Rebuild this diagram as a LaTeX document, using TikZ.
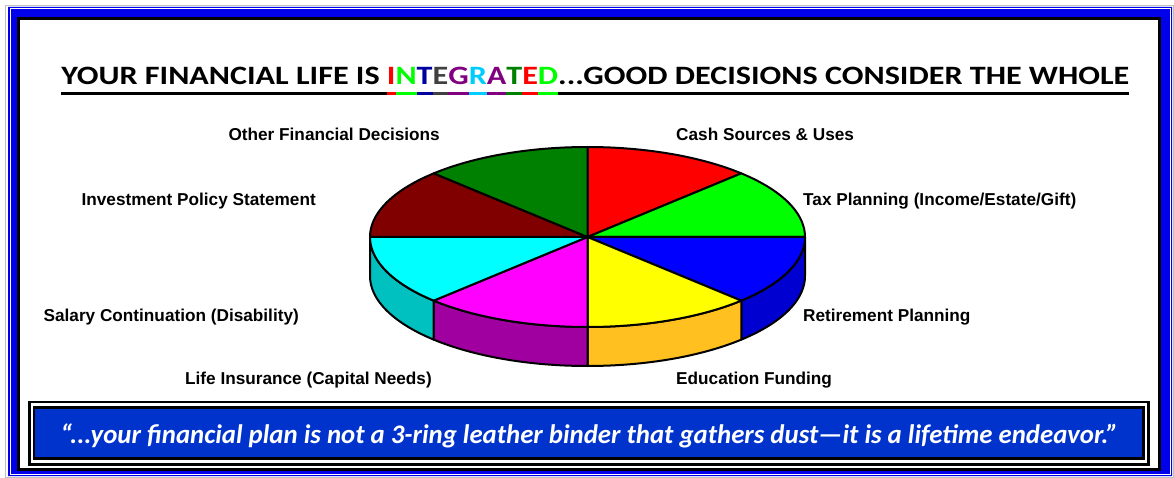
\documentclass[tikz,border=0pt]{standalone}
\usepackage{fontspec}
\setmainfont{Carlito}
\newfontfamily\arialfont{Liberation Sans}
\usetikzlibrary{calc}
\definecolor{frameblue}{RGB}{0,0,235}
\definecolor{bannerblue}{RGB}{0,51,204}
\definecolor{pieRed}{RGB}{255,0,0}
\definecolor{pieLime}{RGB}{0,255,0}
\definecolor{pieBlue}{RGB}{0,0,255}
\definecolor{pieYellow}{RGB}{255,255,0}
\definecolor{pieMagenta}{RGB}{255,0,255}
\definecolor{pieCyan}{RGB}{0,255,255}
\definecolor{pieMaroon}{RGB}{128,0,0}
\definecolor{pieGreen}{RGB}{0,128,0}
\definecolor{wallBlue}{RGB}{0,0,208}
\definecolor{wallYellow}{RGB}{255,192,32}
\definecolor{wallMagenta}{RGB}{160,0,160}
\definecolor{wallCyan}{RGB}{0,192,192}
\definecolor{tNavy}{RGB}{0,0,160}
\definecolor{tGray}{RGB}{64,64,64}
\definecolor{tPurple}{RGB}{128,0,128}
\definecolor{tSky}{RGB}{0,204,255}
\newcommand{\piex}{587.5}
\newcommand{\piey}{237}
\newcommand{\pierx}{217.5}
\newcommand{\piery}{90}
\newcommand{\piedepth}{39}
\newsavebox\ulbox
\newcommand{\ulpart}[2]{\begingroup\color{#1}\sbox\ulbox{#2}\rlap{\rule[-10.7pt]{\wd\ulbox}{2.7pt}}\usebox\ulbox\endgroup}
\tikzset{pieedge/.style={draw=black, line width=2pt, line join=round}}
\tikzset{slicelabel/.style={inner sep=0pt, font=\arialfont\bfseries\fontsize{17.2}{20}\selectfont}}
\tikzset{leftlabel/.style={slicelabel, anchor=base east}}
\tikzset{rightlabel/.style={slicelabel, anchor=base west}}
\tikzset{headline/.style={inner sep=0pt, anchor=base, font=\bfseries\fontsize{26.5}{30}\selectfont}}
\tikzset{quotetext/.style={inner sep=0pt, anchor=base, text=white, font=\bfseries\itshape\fontsize{26.8}{30}\selectfont}}
\begin{document}
\begin{tikzpicture}[x=1pt,y=-1pt]
%integrated financial life: eight slice 3d pie with labels, framed, with a quote banner
\useasboundingbox (0,0) rectangle (1174,478);
\fill[white] (0,0) rectangle (1174,478);
\draw[gray!50, line width=1pt] (5.5,5.5) rectangle (1173,477);
\fill[frameblue, even odd rule] (8,7) rectangle (1172,476) (17,17) rectangle (1161,471);
\draw[white, line width=1pt] (10,9) rectangle (1170,474);
\draw[black, line width=3pt] (18.5,18.5) rectangle (1159.5,469.5);
\node[headline] (head) at (595.4,84.3) {\scalebox{1.213}[1]{\ulpart{black}{YOUR FINANCIAL LIFE IS }\ulpart{red}{I}\ulpart{pieLime}{N}\ulpart{tNavy}{T}\ulpart{tGray}{E}\ulpart{tPurple}{G}\ulpart{tSky}{R}\ulpart{tPurple}{A}\ulpart{pieGreen}{T}\ulpart{red}{E}\ulpart{pieLime}{D}\ulpart{black}{...GOOD DECISIONS CONSIDER THE WHOLE}}};
\coordinate (pc) at (\piex,\piey);
\foreach \s/\e/\col in {0/45/wallBlue,45/90/wallYellow,90/135/wallMagenta,135/180/wallCyan}
  \filldraw[pieedge, fill=\col] plot[domain=\s:\e, samples=30] ({\piex+\pierx*cos(\x)},{\piey+\piery*sin(\x)}) -- plot[domain=\e:\s, samples=30] ({\piex+\pierx*cos(\x)},{\piey+\piedepth+\piery*sin(\x)}) -- cycle;
\foreach \s/\e/\col in {-90/-45/pieRed,-45/0/pieLime,0/45/pieBlue,45/90/pieYellow,90/135/pieMagenta,135/180/pieCyan,180/225/pieMaroon,225/270/pieGreen}
  \filldraw[pieedge, fill=\col] (pc) -- plot[domain=\s:\e, samples=30] ({\piex+\pierx*cos(\x)},{\piey+\piery*sin(\x)}) -- cycle;
\node[leftlabel] (other) at (440,140.5) {Other Financial Decisions};
\node[leftlabel] (ips) at (316,206) {Investment Policy Statement};
\node[leftlabel] (salary) at (299,321) {Salary Continuation (Disability)};
\node[leftlabel] (life) at (432,384) {Life Insurance (Capital Needs)};
\node[rightlabel] (cash) at (676,140.5) {Cash Sources \& Uses};
\node[rightlabel] (tax) at (803,206) {Tax Planning (Income/Estate/Gift)};
\node[rightlabel] (retire) at (803,321) {Retirement Planning};
\node[rightlabel] (edu) at (676,384) {Education Funding};
\draw[black, line width=2.5pt] (29.5,402) rectangle (1148.5,464.5);
\filldraw[fill=bannerblue, draw=black, line width=2.5pt] (34,407.5) rectangle (1143.5,458.5);
\node[quotetext] (quote) at (589.5,443.5) {“...your financial plan is not a 3-ring leather binder that gathers dust—it is a lifetime endeavor.”};
\end{tikzpicture}
\end{document}
